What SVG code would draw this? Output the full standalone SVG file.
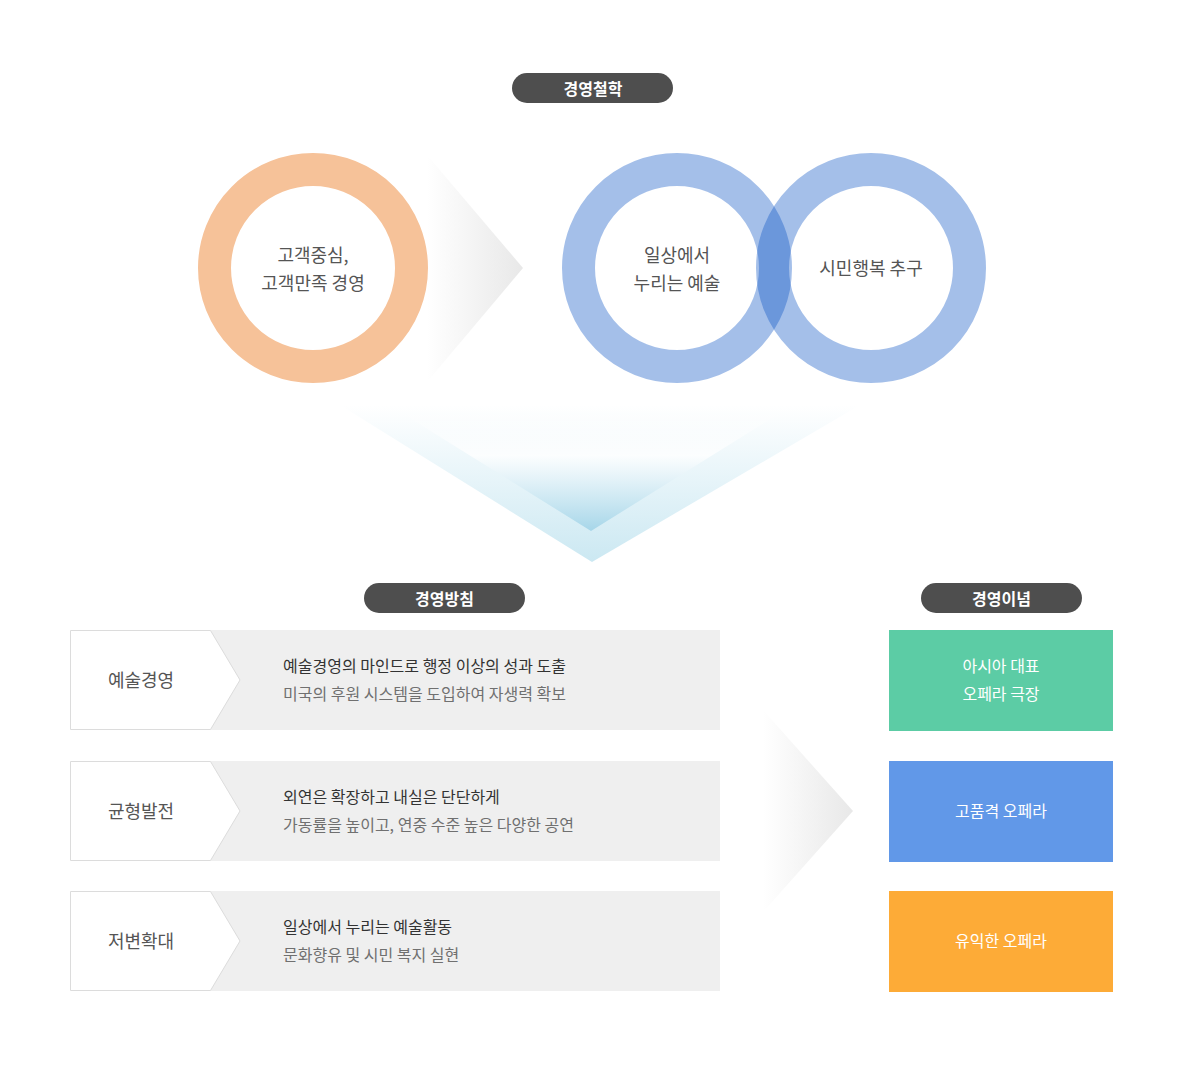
<svg xmlns="http://www.w3.org/2000/svg" width="1183" height="1065" viewBox="0 0 1183 1065">
<style>
text{font-family:"Noto Sans CJK KR","Noto Sans",sans-serif}
.pill{fill:#4e4e4e}
.pt{fill:#fff;font-size:16px;font-weight:bold;text-anchor:middle}
.ct{fill:#555;font-size:18px;text-anchor:middle}
.lbl{fill:#555;font-size:18px;text-anchor:middle}
.l1{fill:#333;font-size:16px}
.l2{fill:#707070;font-size:16px}
.bt{fill:#fff;font-size:16px;text-anchor:middle}
.row{fill:#efefef}
.chev{fill:#fff;stroke:#dcdcdc;stroke-width:1}
</style>
<defs>
<linearGradient id="ga" x1="0" y1="0" x2="1" y2="0">
<stop offset="0" stop-color="#fff"/>
<stop offset="1" stop-color="#e8e8e8"/>
</linearGradient>
<linearGradient id="gv1" x1="0" y1="0" x2="0" y2="1">
<stop offset="0" stop-color="#cde9f3" stop-opacity="0"/>
<stop offset="1" stop-color="#cbe8f2"/>
</linearGradient>
<linearGradient id="gv2" x1="0" y1="0" x2="0" y2="1">
<stop offset="0" stop-color="#fff" stop-opacity="0"/>
<stop offset="0.4" stop-color="#fff" stop-opacity="0.8"/>
<stop offset="1" stop-color="#a6d6e9"/>
</linearGradient>
</defs>

<g id="title-philosophy">
<rect class="pill" x="512" y="73" width="161" height="30" rx="15"/>
<text class="pt" x="593" y="95">경영철학</text>
</g>

<g id="arrow-top">
<polygon points="427,155 523,268 427,382" fill="url(#ga)"/>
</g>

<g id="circle-customer">
<circle cx="313" cy="268" r="98.5" fill="none" stroke="#f6c299" stroke-width="33"/>
<text class="ct" x="313" y="262">고객중심,</text>
<text class="ct" x="313" y="290">고객만족 경영</text>
</g>

<g id="circle-art">
<circle cx="677" cy="268" r="98.5" fill="none" stroke="rgb(12,84,196)" stroke-opacity="0.374" stroke-width="33"/>
<text class="ct" x="677" y="262">일상에서</text>
<text class="ct" x="677" y="290">누리는 예술</text>
</g>

<g id="circle-citizen">
<circle cx="871" cy="268" r="98.5" fill="none" stroke="rgb(12,84,196)" stroke-opacity="0.374" stroke-width="33"/>
<text class="ct" x="871" y="275">시민행복 추구</text>
</g>

<g id="arrow-down">
<polygon points="340,405 860,405 592,562" fill="url(#gv1)"/>
<polygon points="389,405 793,405 591,531" fill="url(#gv2)"/>
</g>

<g id="title-policy">
<rect class="pill" x="364" y="583" width="161" height="30" rx="15"/>
<text class="pt" x="444.5" y="605">경영방침</text>
</g>

<g id="title-ideology">
<rect class="pill" x="921" y="583" width="161" height="30" rx="15"/>
<text class="pt" x="1001.5" y="605">경영이념</text>
</g>

<g id="row-1">
<rect class="row" x="210" y="630" width="510" height="100"/>
<polygon class="chev" points="70.5,630.5 210.5,630.5 240,680 210.5,729.5 70.5,729.5"/>
<text class="lbl" x="141" y="687">예술경영</text>
<text class="l1" x="283" y="672">예술경영의 마인드로 행정 이상의 성과 도출</text>
<text class="l2" x="283" y="700">미국의 후원 시스템을 도입하여 자생력 확보</text>
</g>

<g id="row-2">
<rect class="row" x="210" y="761" width="510" height="100"/>
<polygon class="chev" points="70.5,761.5 210.5,761.5 240,811 210.5,860.5 70.5,860.5"/>
<text class="lbl" x="141" y="818">균형발전</text>
<text class="l1" x="283" y="803">외연은 확장하고 내실은 단단하게</text>
<text class="l2" x="283" y="831">가동률을 높이고, 연중 수준 높은 다양한 공연</text>
</g>

<g id="row-3">
<rect class="row" x="210" y="891" width="510" height="100"/>
<polygon class="chev" points="70.5,891.5 210.5,891.5 240,941 210.5,990.5 70.5,990.5"/>
<text class="lbl" x="141" y="948">저변확대</text>
<text class="l1" x="283" y="933">일상에서 누리는 예술활동</text>
<text class="l2" x="283" y="961">문화향유 및 시민 복지 실현</text>
</g>

<g id="arrow-right">
<polygon points="763,710 853,811 763,912" fill="url(#ga)"/>
</g>

<g id="box-asia">
<rect x="889" y="630" width="224" height="101" fill="#5ccca5"/>
<text class="bt" x="1001" y="672">아시아 대표</text>
<text class="bt" x="1001" y="700">오페라 극장</text>
</g>

<g id="box-quality">
<rect x="889" y="761" width="224" height="101" fill="#6198e8"/>
<text class="bt" x="1001" y="817">고품격 오페라</text>
</g>

<g id="box-useful">
<rect x="889" y="891" width="224" height="101" fill="#fdab37"/>
<text class="bt" x="1001" y="947">유익한 오페라</text>
</g>
</svg>
